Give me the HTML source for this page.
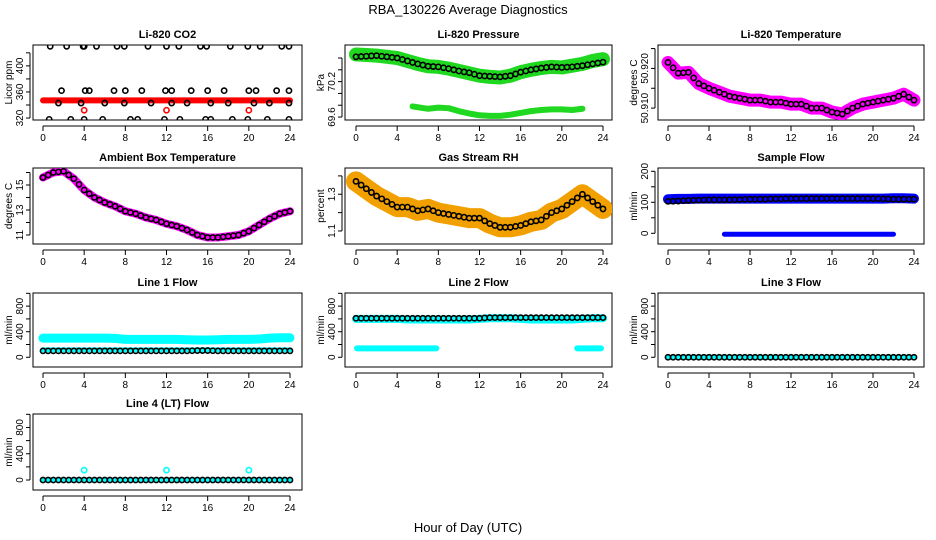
<!DOCTYPE html>
<html><head><meta charset="utf-8"><style>
html,body{margin:0;padding:0;background:#fff}
svg{display:block;font-family:"Liberation Sans",sans-serif}
</style></head><body>
<svg id="chart" width="936" height="540" viewBox="0 0 936 540">
<text x="468" y="14" text-anchor="middle" font-size="13">RBA_130226  Average Diagnostics</text>
<text x="468" y="532" text-anchor="middle" font-size="13">Hour of Day (UTC)</text>
</svg>
<script>
const hours = [0,1,2,3,4,5,6,7,8,9,10,11,12,13,14,15,16,17,18,19,20,21,22,23,24];
const xTicks = [0,4,8,12,16,20,24];
// CO2
const co2Band = [347,347,347,347,347,347,347,347,347,347,347,347,347,347,347,347,347,347,347,347,347,347,347,347,347];
const co2BlackHours = [0.7,2.3,3.9,4,5.2,7.2,7.9,10.2,12,13.2,15.3,15.9,18.2,19.9,21.1,23.2,23.9,1.8,4.1,4.5,6.9,8,9.6,11.9,12.5,14.4,16,17.6,20,20.7,22.7,23.9,1.5,3.7,6,7.9,10.5,12.5,14,16.3,18,20.5,22,23.9,0.6,2.7,4,5.8,8.5,9.2,11.8,13.3,15.8,16.3,18.4,19.9,21.8,23.9];
const co2BlackVals = [430,430,430,430,430,430,430,430,430,430,430,430,430,430,430,430,430,362,362,362,362,362,362,362,362,362,362,362,362,362,362,362,343,343,343,343,343,343,343,343,343,343,343,343,318,318,318,318,318,318,318,318,318,318,318,318,318,318];
const co2RedHours = [4,12,20];
const co2RedVals = [332,332,332];
// Pressure
const pressBlack = [70.62,70.63,70.64,70.62,70.6,70.55,70.5,70.46,70.45,70.42,70.38,70.35,70.3,70.29,70.28,70.3,70.36,70.4,70.43,70.45,70.44,70.45,70.47,70.5,70.53];
const pressBand = [70.66,70.65,70.64,70.62,70.6,70.55,70.5,70.46,70.45,70.42,70.38,70.34,70.3,70.28,70.27,70.3,70.36,70.4,70.43,70.45,70.44,70.47,70.5,70.55,70.58];
const pressLowHours = [5.5,7,8,9,10,11,12,13,14,15,16,17,18,19,20,21,22];
const pressLowVals = [69.78,69.74,69.76,69.75,69.7,69.66,69.63,69.62,69.62,69.64,69.67,69.7,69.72,69.73,69.73,69.72,69.74];
// Temperature
const tempBlack = [50.9215,50.9188,50.919,50.9162,50.915,50.914,50.913,50.9125,50.912,50.912,50.9115,50.9115,50.911,50.911,50.910,50.910,50.909,50.9085,50.910,50.911,50.9115,50.912,50.9125,50.9135,50.912];
// Ambient
const ambBlack = [15.6,16.0,16.1,15.5,14.6,14.0,13.6,13.3,12.9,12.7,12.4,12.2,11.9,11.7,11.4,11.0,10.8,10.8,10.9,11.0,11.3,11.8,12.3,12.7,12.9];
// RH
const rhBlack = [1.37,1.33,1.29,1.26,1.23,1.23,1.21,1.22,1.20,1.19,1.18,1.17,1.17,1.14,1.12,1.12,1.13,1.15,1.16,1.2,1.22,1.26,1.3,1.26,1.22];
// Sample flow
const sampleBlack = [103,104,106,107,108,108,108,109,110,110,111,111,112,112,112,112,112,112,112,112,112,111,110,110,110];
const sampleBand = [110,111,111,112,112,112,112,112,112,112,112,112,112,112,112,112,112,112,112,112,112,112,113,113,112];
const sampleLowHours = [5.5,22];
const sampleLowVals = [-3,-3];
// Line flows
const line1Band = [300,300,300,300,300,300,300,295,280,280,280,280,280,280,275,270,270,275,280,280,280,285,300,305,305];
const line1Black = [100,100,100,100,100,100,100,100,100,100,100,100,100,100,100,105,105,100,100,100,100,100,100,100,100];
const line2Band = [600,600,600,600,600,590,590,590,590,590,590,590,600,610,610,610,600,590,590,590,590,590,600,610,610];
const line2Black = [610,610,610,610,610,610,610,610,610,610,610,610,610,620,620,620,620,620,620,620,620,620,620,620,620];
const line2LowHours1 = [0.1,7.8];
const line2LowVals1 = [140,140];
const line2LowHours2 = [21.5,23.8];
const line2LowVals2 = [140,140];
const line3Black = [0,0,0,0,0,0,0,0,0,0,0,0,0,0,0,0,0,0,0,0,0,0,0,0,0];
const line4Black = [0,0,0,0,0,0,0,0,0,0,0,0,0,0,0,0,0,0,0,0,0,0,0,0,0];
const line4SpikeHours = [4,12,20];
const line4SpikeVals = [150,150,150];
const flowTicks = [0,200,400,600,800,1000];
const flowLabels = ['0','','400','','800',''];

const NS='http://www.w3.org/2000/svg';
const svg=document.getElementById('chart');
const cols=[{b0:33,b1:302,h0:43,h24:290},{b0:345,b1:612,h0:356,h24:603},{b0:658,b1:924,h0:668,h24:914}];
const rows=[[45,120],[168,244],[293,367],[414,490]];
function mk(tag,attrs,parent){const e=document.createElementNS(NS,tag);for(const k in attrs)e.setAttribute(k,attrs[k]);(parent||svg).appendChild(e);return e;}

function panel(ci,ri,name,title,ylab,ylim,ticks,labels){
  const c=cols[ci],r=rows[ri];
  const g=mk('g',{});
  
  
  const xs=h=>c.h0+(c.h24-c.h0)*h/24;
  const ys=v=>r[1]-(v-ylim[0])/(ylim[1]-ylim[0])*(r[1]-r[0]);
  const box=mk('rect',{x:c.b0,y:r[0],width:c.b1-c.b0,height:r[1]-r[0],fill:'none',stroke:'#000','stroke-width':1},g);
  
  
  const t=mk('text',{x:(c.b0+c.b1)/2,y:r[0]-7,'text-anchor':'middle','font-size':11,'font-weight':'bold'},g);
  t.textContent=title;
  
  
  const ylx=c.b0-21, yc=(r[0]+r[1])/2;
  const yl=mk('text',{x:ylx,y:yc,'text-anchor':'middle','font-size':10,transform:`rotate(-90 ${ylx} ${yc})`},g);
  yl.textContent=ylab;
  
  
  const xa=mk('g',{},g);
  
  
  mk('line',{x1:xs(0),x2:xs(24),y1:r[1]+6,y2:r[1]+6,stroke:'#000'},xa);
  xTicks.forEach(h=>{
    mk('line',{x1:xs(h),x2:xs(h),y1:r[1]+6,y2:r[1]+11,stroke:'#000'},xa);
    const tl=mk('text',{x:xs(h),y:r[1]+21,'text-anchor':'middle','font-size':10},xa);
    tl.textContent=h;
  });
  const ya=mk('g',{},g);
  
  
  const ax=c.b0-3;
  mk('line',{x1:ax,x2:ax,y1:ys(ticks[0]),y2:ys(ticks[ticks.length-1]),stroke:'#000'},ya);
  ticks.forEach((v,i)=>{
    mk('line',{x1:ax-4,x2:ax,y1:ys(v),y2:ys(v),stroke:'#000'},ya);
    if(labels[i]){const lx=ax-7;const tl=mk('text',{x:lx,y:ys(v),'text-anchor':'middle','font-size':10,transform:`rotate(-90 ${lx} ${ys(v)})`},ya);tl.textContent=labels[i];}
  });
  const clip='clip'+ci+ri;
  const cp=mk('clipPath',{id:clip},g);mk('rect',{x:c.b0,y:r[0],width:c.b1-c.b0,height:r[1]-r[0]},cp);
  const pg=mk('g',{'clip-path':`url(#${clip})`},g);
  return {
    band(hs,vs,color,w,nm){const p=mk('polyline',{points:hs.map((h,i)=>xs(h)+','+ys(vs[i])).join(' '),fill:'none',stroke:color,'stroke-width':w,'stroke-linecap':'round','stroke-linejoin':'round'},pg);
      
      },
    pts(hs,vs,color,nm,rad){hs.forEach((h,i)=>{const e=mk('circle',{cx:xs(h),cy:ys(vs[i]),r:rad||2.6,fill:'none',stroke:color,'stroke-width':1.6},pg);
      
      });}
  };
}
const halfH=hours.slice(1).map(h=>h-0.5);
function mid(arr){return arr.slice(1).map((v,i)=>(v+arr[i])/2);}

let p=panel(0,0,'panel-co2','Li-820 CO2','Licor ppm',[317,432],[320,340,360,380,400,420],['320','','360','','400','']);
p.band(hours,co2Band,'#ff0000',6,'co2-band');
p.pts(co2BlackHours,co2BlackVals,'#000','co2-point');
p.pts(co2RedHours,co2RedVals,'#ff0000','co2-red-point');

p=panel(1,0,'panel-pressure','Li-820 Pressure','kPa',[69.55,70.82],[69.6,69.8,70.0,70.2,70.4,70.6],['69.6','','','70.2','','']);
p.band(hours,pressBand,'#1fd81f',14,'pressure-band');
p.band(pressLowHours,pressLowVals,'#1fd81f',6,'pressure-low-band');
p.pts(hours,pressBlack,'#000','pressure-point');p.pts(halfH,mid(pressBlack),'#000','pressure-point');

p=panel(2,0,'panel-temperature','Li-820 Temperature','degrees C',[50.907,50.9259],[50.910,50.915,50.920,50.925],['50.910','','50.920','']);
p.band(hours,tempBlack,'#ff00ff',13,'temperature-band');
p.pts(hours,tempBlack,'#000','temperature-point');p.pts(halfH,mid(tempBlack),'#000','temperature-point');

p=panel(0,1,'panel-ambient','Ambient Box Temperature','degrees C',[10.28,16.36],[11,12,13,14,15,16],['11','','13','','15','']);
p.band(hours,ambBlack,'#ff00ff',8,'ambient-band');
p.pts(hours,ambBlack,'#000','ambient-point');p.pts(halfH,mid(ambBlack),'#000','ambient-point');

p=panel(1,1,'panel-rh','Gas Stream RH','percent',[1.029,1.443],[1.1,1.2,1.3,1.4],['1.1','','1.3','']);
p.band(hours,rhBlack,'#f2a000',20,'rh-band');
p.pts(hours,rhBlack,'#000','rh-point');p.pts(halfH,mid(rhBlack),'#000','rh-point');

p=panel(2,1,'panel-sample-flow','Sample Flow','ml/min',[-34.5,210.6],[0,50,100,150,200],['0','','100','','200']);
p.band(hours,sampleBand,'#0000ff',10,'sample-band');
p.band(sampleLowHours,sampleLowVals,'#0000ff',5,'sample-low-band');
p.pts(hours,sampleBlack,'#000','sample-point');p.pts(halfH,mid(sampleBlack),'#000','sample-point');

const fl=[-152,1005];
p=panel(0,2,'panel-line1','Line 1 Flow','ml/min',fl,flowTicks,flowLabels);
p.band(hours,line1Band,'#00ffff',9,'line1-band');
p.band([0,24],[115,115],'#00ffff',5,'line1-low-band');
p.pts(hours,line1Black,'#000','line1-point');p.pts(halfH,mid(line1Black),'#000','line1-point');

p=panel(1,2,'panel-line2','Line 2 Flow','ml/min',fl,flowTicks,flowLabels);
p.band(hours,line2Band,'#00ffff',8,'line2-band');
p.band(line2LowHours1,line2LowVals1,'#00ffff',6,'line2-low-band');
p.band(line2LowHours2,line2LowVals2,'#00ffff',6,'line2-low-band');
p.pts(hours,line2Black,'#000','line2-point');p.pts(halfH,mid(line2Black),'#000','line2-point');

p=panel(2,2,'panel-line3','Line 3 Flow','ml/min',fl,flowTicks,flowLabels);
p.band([0,24],[0,0],'#00ffff',5,'line3-band');
p.pts(hours,line3Black,'#000','line3-point');p.pts(halfH,mid(line3Black),'#000','line3-point');

p=panel(0,3,'panel-line4','Line 4 (LT) Flow','ml/min',fl,flowTicks,flowLabels);
p.band([0,24],[0,0],'#00ffff',5,'line4-band');
p.pts(line4SpikeHours,line4SpikeVals,'#00ffff','line4-spike-point');
p.pts(hours,line4Black,'#000','line4-point');p.pts(halfH,mid(line4Black),'#000','line4-point');
</script>
</body></html>
